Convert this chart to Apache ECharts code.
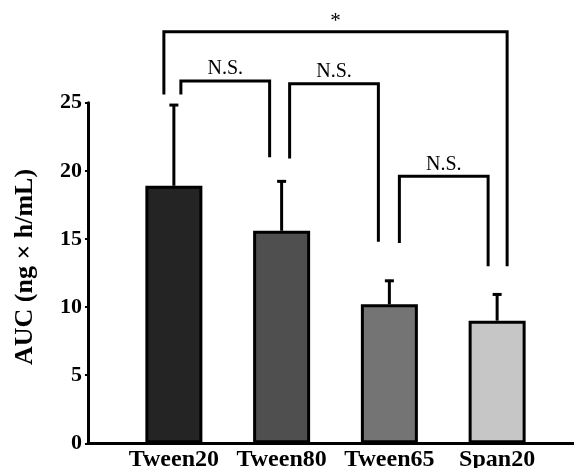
<!DOCTYPE html>
<html>
<head>
<meta charset="utf-8">
<script src="https://cdn.jsdelivr.net/npm/echarts@6/dist/echarts.min.js"></script>
<style>
  html, body { margin: 0; padding: 0; background: #fff; }
  #auc_chart { width: 574px; height: 468px; }
</style>
</head>
<body>
<div id="auc_chart"></div>
<script>
// groups and measured AUC (mean, SD)
var groups = ['Tween20', 'Tween80', 'Tween65', 'Span20'];
var aucMean = [18.9, 15.6, 10.2, 9.0];
var aucSd = [6.0, 3.7, 1.8, 2.0];
var barColors = ['#242424', '#4f4f4f', '#747474', '#c6c6c6'];
var yTicks = [0, 5, 10, 15, 20, 25];

// significance brackets: from group, to group, bracket height, left leg end, right leg end, label
var bracketFrom = [0, 0, 1, 2];
var bracketTo = [3, 1, 2, 3];
var bracketTop = [30.2, 26.6, 26.4, 19.6];
var bracketLeftEnd = [25.6, 25.6, 20.9, 14.7];
var bracketRightEnd = [13.0, 21.0, 14.8, 13.0];
var bracketLabel = ['*', 'N.S.', 'N.S.', 'N.S.'];

(function () {
    var myChart = echarts.init(document.getElementById('auc_chart'));

    var serif = '"Liberation Serif", "Times New Roman", serif';
    // leg offsets in px from the bar centre (left leg, right leg)
    var legShift = [[-10, 10], [7, -12], [8, -11], [10, -9]];

    var errData = groups.map(function (g, i) {
        return [i, aucMean[i], aucMean[i] + aucSd[i]];
    });
    var bracketData = bracketFrom.map(function (f, i) {
        return [f, bracketTo[i], bracketTop[i], bracketLeftEnd[i], bracketRightEnd[i], i];
    });

    var option = {
        animation: false,
        grid: [
            { left: 88, right: 0, top: 102.7, height: 340.6, outerBoundsMode: 'none', containLabel: false },
            { left: 120, width: 431, top: 102.7, height: 340.6, outerBoundsMode: 'none', containLabel: false }
        ],
        xAxis: [
            {
                type: 'value',
                gridIndex: 0,
                min: 0,
                max: 1,
                axisLine: { show: true, lineStyle: { color: '#000', width: 3 } },
                axisTick: { show: false },
                axisLabel: { show: false },
                splitLine: { show: false }
            },
            {
                type: 'category',
                gridIndex: 1,
                data: groups,
                axisLine: { show: false },
                axisTick: { show: false },
                axisLabel: {
                    interval: 0,
                    margin: 4,
                    color: '#000',
                    fontFamily: serif,
                    fontWeight: 'bold',
                    fontSize: 24
                }
            }
        ],
        yAxis: [
            {
                type: 'value',
                gridIndex: 0,
                min: yTicks[0],
                max: yTicks[yTicks.length - 1],
                interval: 5,
                name: 'AUC (ng \u00d7 h/mL)',
                nameLocation: 'middle',
                nameRotate: 90,
                nameGap: 50,
                nameTextStyle: {
                    color: '#000',
                    fontFamily: serif,
                    fontWeight: 'bold',
                    fontSize: 26,
                    padding: [0, 0, 0, 12]
                },
                axisLine: { show: true, lineStyle: { color: '#000', width: 3 } },
                axisTick: { show: true, length: 3, lineStyle: { color: '#000', width: 2 } },
                axisLabel: {
                    margin: 6,
                    color: '#000',
                    fontFamily: serif,
                    fontWeight: 'bold',
                    fontSize: 22
                },
                splitLine: { show: false }
            },
            {
                type: 'value',
                gridIndex: 1,
                min: yTicks[0],
                max: yTicks[yTicks.length - 1],
                show: false
            }
        ],
        series: [
            {
                name: 'AUC',
                type: 'bar',
                xAxisIndex: 1,
                yAxisIndex: 1,
                barWidth: 57,
                data: aucMean.map(function (v, i) {
                    return {
                        value: v,
                        itemStyle: { color: barColors[i], borderColor: '#000', borderWidth: 3 }
                    };
                })
            },
            {
                name: 'SD',
                type: 'custom',
                xAxisIndex: 1,
                yAxisIndex: 1,
                z: 3,
                data: errData,
                renderItem: function (params, api) {
                    var lo = api.coord([api.value(0), api.value(1)]);
                    var hi = api.coord([api.value(0), api.value(2)]);
                    var st = { stroke: '#000', lineWidth: 3 };
                    return {
                        type: 'group',
                        children: [
                            { type: 'line', shape: { x1: lo[0], y1: lo[1], x2: hi[0], y2: hi[1] }, style: st },
                            { type: 'line', shape: { x1: hi[0] - 4.5, y1: hi[1] + 1, x2: hi[0] + 4.5, y2: hi[1] + 1 }, style: { stroke: '#000', lineWidth: 3 } }
                        ]
                    };
                }
            },
            {
                name: 'brackets',
                type: 'custom',
                xAxisIndex: 1,
                yAxisIndex: 1,
                clip: false,
                z: 4,
                data: bracketData,
                renderItem: function (params, api) {
                    var k = api.value(5);
                    var a = api.coord([api.value(0), api.value(2)]);
                    var b = api.coord([api.value(1), api.value(2)]);
                    var aEnd = api.coord([api.value(0), api.value(3)]);
                    var bEnd = api.coord([api.value(1), api.value(4)]);
                    var x1 = a[0] + legShift[k][0];
                    var x2 = b[0] + legShift[k][1];
                    var top = a[1];
                    var star = bracketLabel[k] === '*';
                    var st = { stroke: '#000', lineWidth: 3, fill: null };
                    return {
                        type: 'group',
                        children: [
                            {
                                type: 'polyline',
                                shape: { points: [[x1, aEnd[1]], [x1, top], [x2, top], [x2, bEnd[1]]] },
                                style: st
                            },
                            {
                                type: 'text',
                                style: {
                                    text: bracketLabel[k],
                                    x: (x1 + x2) / 2,
                                    y: top - (star ? 0 : 2),
                                    align: 'center',
                                    verticalAlign: 'bottom',
                                    fill: '#000',
                                    font: (star ? '21px ' : '20px ') + serif
                                }
                            }
                        ]
                    };
                }
            }
        ]
    };

    myChart.setOption(option);
})();
</script>
</body>
</html>
